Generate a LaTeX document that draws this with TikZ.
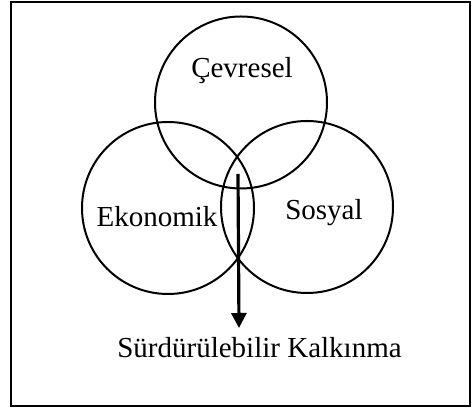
\documentclass[tikz,border=0pt]{standalone}
\usepackage{fontspec}
\setmainfont{Liberation Serif}
\usetikzlibrary{arrows.meta}

\begin{document}
\begin{tikzpicture}[x=0.5pt,y=-0.5pt]
			\tikzstyle{every node}+=[inner sep=0pt]
			\tikzstyle{ring}=[draw=black, circle, line width=1pt, minimum size=86pt]
			\tikzstyle{word}=[anchor=base, font=\fontsize{14.5}{17}\selectfont]
			\useasboundingbox (0,0) rectangle (471,410);
			\draw [black, line width=1pt] (11,2.5) rectangle (470,406);
			\node [ring] (cevre) at (241,102.5) {};
			\node [ring] (ekon) at (168,208) {};
			\node [ring] (sosy) at (307,207) {};
			\node [word] (tcevre) at (242,78) {Çevresel};
			\node [word] (tekon) at (157,227) {Ekonomik};
			\node [word] (tsosy) at (324,220) {Sosyal};
			\node [word] (tkalk) at (259.5,358) {Sürdürülebilir Kalkınma};
			\coordinate (ustu) at (238,174);
			\coordinate (alti) at (239,328);
			\draw [black, line width=1.6pt, -{Triangle[width=7.5pt,length=7.5pt]}] (ustu) -- (alti);
			\end{tikzpicture}
\end{document}
